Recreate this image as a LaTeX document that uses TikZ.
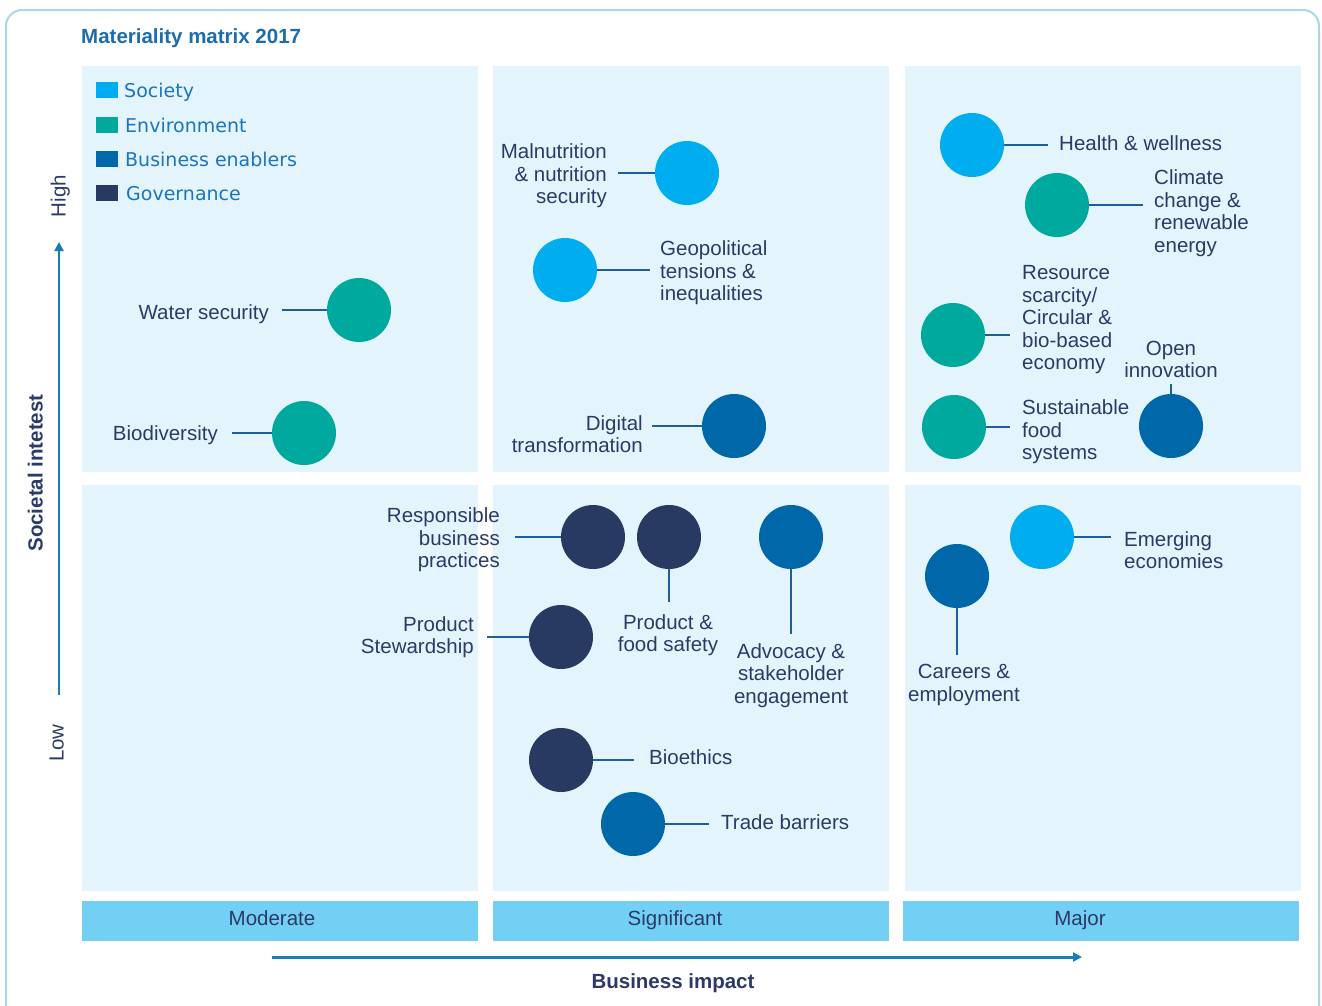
\documentclass[tikz,border=0pt]{standalone}
\usepackage{fontspec}
\setmainfont{Liberation Sans}
\newfontfamily\legfont{DejaVu Sans}
\usetikzlibrary{arrows.meta}
\definecolor{csoc}{HTML}{00AEEF}
\definecolor{cenv}{HTML}{00A99D}
\definecolor{cbe}{HTML}{0068A9}
\definecolor{cgov}{HTML}{283A62}
\definecolor{cpanel}{HTML}{E3F4FC}
\definecolor{cbar}{HTML}{73CFF4}
\definecolor{cnavy}{HTML}{2B3A67}
\definecolor{ctitle}{HTML}{1B6DAE}
\definecolor{cleg}{HTML}{1C75BC}
\definecolor{carrow}{HTML}{1A7DBB}
\definecolor{cframe}{HTML}{A8D8EA}
\definecolor{cline}{HTML}{1D5F98}
\begin{document}
\begin{tikzpicture}[x=1pt,y=-1pt,
  dot/.style={circle,minimum size=64pt,inner sep=0pt,draw=none},
  soc/.style={dot,fill=csoc},
  env/.style={dot,fill=cenv},
  be/.style={dot,fill=cbe},
  gov/.style={dot,fill=cgov},
  lbl/.style={text=cnavy,font=\fontsize{20.5}{22.5}\selectfont,inner sep=0pt},
  one/.style={text height=15pt,text depth=0pt},
  conn/.style={draw=cline,line width=1.2pt},
  panel/.style={fill=cpanel},
  bar/.style={fill=cbar},
  legsq/.style={minimum width=22pt,minimum height=16pt,inner sep=0pt,anchor=north west},
  legtxt/.style={text=cleg,font=\legfont\fontsize{19}{22}\selectfont,inner sep=0pt,anchor=west,text height=14pt,text depth=0pt},
  axis/.style={draw=carrow,-{Triangle[length=9pt,width=9pt]}},
]
\useasboundingbox (0,0) rectangle (1322,1005);
\fill[white] (0,0) rectangle (1322,1005);
% frame
\draw[cframe,line width=2pt,rounded corners=16pt] (6,10) rectangle (1319,1030);
% title
\node[anchor=west,inner sep=0pt,one,text=ctitle,font=\bfseries\fontsize{20.5}{22.5}\selectfont] (title) at (81,36) {Materiality matrix 2017};
% panels
\fill[panel] (82,66) rectangle (478,472);
\fill[panel] (493,66) rectangle (889,472);
\fill[panel] (905,66) rectangle (1301,472);
\fill[panel] (82,485) rectangle (478,891);
\fill[panel] (493,485) rectangle (889,891);
\fill[panel] (905,485) rectangle (1301,891);
% bars
\fill[bar] (82,901) rectangle (478,941);
\fill[bar] (493,901) rectangle (889,941);
\fill[bar] (903,901) rectangle (1299,941);
\node[lbl,one] (bmod) at (272,918) {Moderate};
\node[lbl,one] (bsig) at (675,918) {Significant};
\node[lbl,one] (bmaj) at (1080,918) {Major};
% legend
\node[legsq,fill=csoc] (lq1) at (96,82) {};
\node[legtxt] (lt1) at (124,90) {Society};
\node[legsq,fill=cenv] (lq2) at (96,117) {};
\node[legtxt] (lt2) at (125,125) {Environment};
\node[legsq,fill=cbe] (lq3) at (96,151) {};
\node[legtxt] (lt3) at (125,159) {Business enablers};
\node[legsq,fill=cgov] (lq4) at (96,185) {};
\node[legtxt] (lt4) at (126,193) {Governance};
% axes
\coordinate (vy0) at (59,695);
\coordinate (vy1) at (59,242);
\draw[axis,line width=2.5pt] (vy0) -- (vy1);
\coordinate (hx0) at (272,957);
\coordinate (hx1) at (1082,957);
\draw[axis,line width=3pt] (hx0) -- (hx1);
\node[lbl,one,rotate=90] (high) at (58,196) {High};
\node[lbl,one,rotate=90] (low) at (56,743) {Low};
\node[lbl,one,rotate=90,font=\bfseries\fontsize{20.5}{22.5}\selectfont] (soci) at (35,473) {Societal intetest};
\node[lbl,one,font=\bfseries\fontsize{20.5}{22.5}\selectfont] (bimp) at (673,981) {Business impact};
% circles
\node[env] (ws) at (359,310) {};
\node[env] (bd) at (304,433) {};
\node[soc] (mn) at (687,173) {};
\node[soc] (gp) at (565,270) {};
\node[be] (dt) at (734,426) {};
\node[soc] (hw) at (972,145) {};
\node[env] (cc) at (1057,205) {};
\node[env] (rs) at (953,335) {};
\node[env] (sf) at (954,427) {};
\node[be] (oi) at (1171,426) {};
\node[gov] (rb) at (593,537) {};
\node[gov] (pf) at (669,537) {};
\node[be] (ad) at (791,537) {};
\node[gov] (ps) at (561,637) {};
\node[gov] (bi) at (561,760) {};
\node[be] (tb) at (633,824) {};
\node[soc] (ee) at (1042,537) {};
\node[be] (ce) at (957,576) {};
% labels
\node[lbl,one,anchor=east] (wsl) at (269,312) {Water security};
\node[lbl,one,anchor=east] (bdl) at (218,433) {Biodiversity};
\node[lbl,anchor=east,align=right] (mnl) at (607,176) {Malnutrition\\\& nutrition\\security};
\node[lbl,anchor=west,align=left] (gpl) at (660,273) {Geopolitical\\tensions \&\\inequalities};
\node[lbl,anchor=east,align=right] (dtl) at (643,434) {Digital\\transformation};
\node[lbl,one,anchor=west] (hwl) at (1059,143) {Health \& wellness};
\node[lbl,anchor=west,align=left] (ccl) at (1154,213) {Climate\\change \&\\renewable\\energy};
\node[lbl,anchor=west,align=left] (rsl) at (1022,320) {Resource\\scarcity/\\Circular \&\\bio-based\\economy};
\node[lbl,anchor=west,align=left] (sfl) at (1022,432) {Sustainable\\food\\systems};
\node[lbl,anchor=south,align=center] (oil) at (1171,378) {Open\\innovation};
\node[lbl,anchor=east,align=right] (rbl) at (500,540) {Responsible\\business\\practices};
\node[lbl,anchor=north,align=center] (pfl) at (668,614) {Product \&\\food safety};
\node[lbl,anchor=north,align=center] (adl) at (791,643) {Advocacy \&\\stakeholder\\engagement};
\node[lbl,anchor=east,align=right] (psl) at (474,637) {Product\\Stewardship};
\node[lbl,one,anchor=west] (bil) at (649,757) {Bioethics};
\node[lbl,one,anchor=west] (tbl) at (721,822) {Trade barriers};
\node[lbl,anchor=west,align=left] (eel) at (1124,550) {Emerging\\economies};
\node[lbl,anchor=north,align=center] (cel) at (964,664) {Careers \&\\employment};
% connectors
\draw[conn,shorten >=13pt] (ws.west) -- (ws.west -| wsl.east);
\draw[conn,shorten >=14pt] (bd.west) -- (bd.west -| bdl.east);
\draw[conn,shorten >=11pt] (mn.west) -- (mn.west -| mnl.east);
\draw[conn,shorten >=10pt] (gp.east) -- (gp.east -| gpl.west);
\draw[conn,shorten >=9pt] (dt.west) -- (dt.west -| dtl.east);
\draw[conn,shorten >=11pt] (hw.east) -- (hw.east -| hwl.west);
\draw[conn,shorten >=11pt] (cc.east) -- (cc.east -| ccl.west);
\draw[conn,shorten >=12pt] (rs.east) -- (rs.east -| rsl.west);
\draw[conn,shorten >=12pt] (sf.east) -- (sf.east -| sfl.west);
\draw[conn,shorten >=6pt] (oi.north) -- (oi.north |- oil.south);
\draw[conn,shorten >=15pt] (rb.west) -- (rb.west -| rbl.east);
\draw[conn,shorten >=12pt] (pf.south) -- (pf.south |- pfl.north);
\draw[conn,shorten >=9pt] (ad.south) -- (ad.south |- adl.north);
\draw[conn,shorten >=13pt] (ps.west) -- (ps.west -| psl.east);
\draw[conn,shorten >=15pt] (bi.east) -- (bi.east -| bil.west);
\draw[conn,shorten >=12pt] (tb.east) -- (tb.east -| tbl.west);
\draw[conn,shorten >=13pt] (ee.east) -- (ee.east -| eel.west);
\draw[conn,shorten >=9pt] (ce.south) -- (ce.south |- cel.north);
\end{tikzpicture}
\end{document}
